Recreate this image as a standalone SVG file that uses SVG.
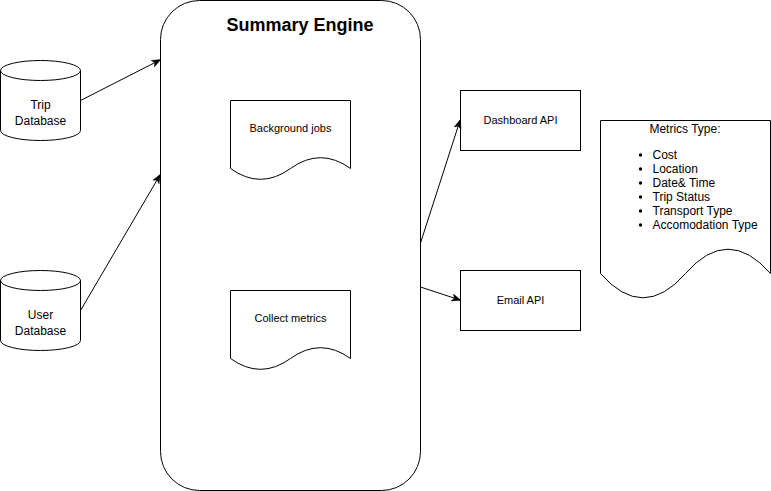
<svg xmlns="http://www.w3.org/2000/svg" width="771" height="491" viewBox="0 0 771 491">
<style>
.s{fill:#fff;stroke:#000;stroke-width:1}
.t{font-family:"Liberation Sans",Arial,sans-serif;font-size:12px;fill:#000;text-anchor:middle}
.l{fill:none;stroke:#000;stroke-width:1}
</style>
<defs>
<marker id="a" viewBox="0 0 10 10" refX="9" refY="5" markerWidth="9" markerHeight="9" orient="auto" markerUnits="userSpaceOnUse">
<path d="M0,1 L10,5 L0,9 L2.5,5 Z" fill="#000" stroke="#000" stroke-width="0.5"/>
</marker>
</defs>
<rect width="771" height="491" fill="#fff"/>
<g id="engine">
<rect class="s" x="160.5" y="0.5" width="260" height="490" rx="39" ry="39"/>
<text x="300" y="31" style="font-family:'Liberation Sans',Arial,sans-serif;font-size:18px;font-weight:bold;text-anchor:middle">Summary Engine</text>
</g>
<g id="trip-db">
<path class="s" d="M0.5,70.5 A40,10 0 0 1 80.5,70.5 L80.5,130.5 A40,10 0 0 1 0.5,130.5 Z"/>
<path class="l" d="M0.5,70.5 A40,10 0 0 0 80.5,70.5"/>
<text class="t" x="40.5" y="109">Trip</text>
<text class="t" x="40.5" y="125">Database</text>
</g>
<g id="user-db">
<path class="s" d="M0.5,280.5 A40,10 0 0 1 80.5,280.5 L80.5,340.5 A40,10 0 0 1 0.5,340.5 Z"/>
<path class="l" d="M0.5,280.5 A40,10 0 0 0 80.5,280.5"/>
<text class="t" x="40.5" y="319">User</text>
<text class="t" x="40.5" y="335">Database</text>
</g>
<g id="background-jobs">
<path class="s" d="M230.5,100.5 L350.5,100.5 L350.5,168.5 Q320.5,146.9 290.5,168.5 Q260.5,190.1 230.5,168.5 Z"/>
<text class="t" x="290.5" y="132" style="font-size:11px">Background jobs</text>
</g>
<g id="collect-metrics">
<path class="s" d="M230.5,290.5 L350.5,290.5 L350.5,358.5 Q320.5,336.9 290.5,358.5 Q260.5,380.1 230.5,358.5 Z"/>
<text class="t" x="290.5" y="322" style="font-size:11px">Collect metrics</text>
</g>
<g id="dashboard-api">
<rect class="s" x="460.5" y="90.5" width="120" height="60"/>
<text class="t" x="520.5" y="124" style="font-size:11px">Dashboard API</text>
</g>
<g id="email-api">
<rect class="s" x="460.5" y="270.5" width="120" height="60"/>
<text class="t" x="520.5" y="304" style="font-size:11px">Email API</text>
</g>
<g id="metrics-type">
<path class="s" d="M600.5,120.5 L770.5,120.5 L770.5,273.5 Q728,224.9 685.5,273.5 Q643,322.1 600.5,273.5 Z"/>
<text class="t" x="685" y="133">Metrics Type:</text>
<g style="font-family:'Liberation Sans',Arial,sans-serif;font-size:12px">
<circle cx="640.5" cy="155" r="1.7"/><text x="652.5" y="159">Cost</text>
<circle cx="640.5" cy="169" r="1.7"/><text x="652.5" y="173">Location</text>
<circle cx="640.5" cy="183" r="1.7"/><text x="652.5" y="187">Date&amp; Time</text>
<circle cx="640.5" cy="197" r="1.7"/><text x="652.5" y="201">Trip Status</text>
<circle cx="640.5" cy="211" r="1.7"/><text x="652.5" y="215">Transport Type</text>
<circle cx="640.5" cy="225" r="1.7"/><text x="652.5" y="229">Accomodation Type</text>
</g>
</g>
<g id="connectors">
<line class="l" x1="80.5" y1="100.5" x2="160" y2="60" marker-end="url(#a)"/>
<line class="l" x1="80.5" y1="310.5" x2="160" y2="175" marker-end="url(#a)"/>
<line class="l" x1="420.5" y1="243" x2="460" y2="120.5" marker-end="url(#a)"/>
<line class="l" x1="420.5" y1="287" x2="460" y2="300" marker-end="url(#a)"/>
</g>
</svg>
